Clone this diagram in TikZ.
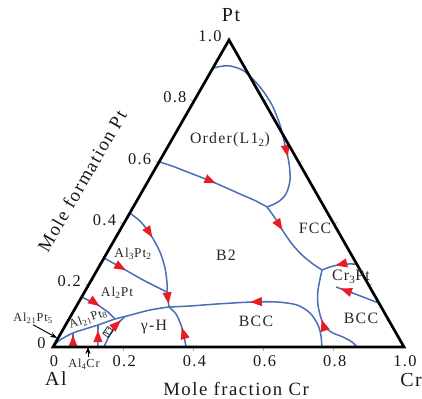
\documentclass[tikz,border=0pt]{standalone}
\usepackage{fontspec}
\setmainfont{Liberation Serif}[LetterSpace=8]
\usetikzlibrary{arrows.meta,decorations.markings,calc}

\definecolor{curveblue}{RGB}{74,112,182}
\definecolor{flowred}{RGB}{232,28,36}

\tikzset{
  triedge/.style={black,line width=2.3pt,line join=miter},
  phaseline/.style={curveblue,line width=1.3pt},
  flow/.style={postaction={decorate,decoration={markings,
      mark=at position #1 with {\arrow{Triangle[length=10pt,width=7.5pt,color=flowred]}}}}},
  gridtick/.style={gray!60,line width=0.6pt},
  ticklabel/.style={font=\fontsize{14}{16}\selectfont,text=black!90,inner sep=1pt},
  cornerlabel/.style={font=\fontsize{17}{19}\selectfont,text=black!90},
  axistitle/.style={font=\fontsize{16}{18}\selectfont,text=black!90},
  phasename/.style={font=\fontsize{13.5}{15}\selectfont,text=black!85},
  smallphase/.style={font=\fontsize{11.5}{13}\selectfont,text=black!85},
  tinyphase/.style={font=\fontsize{10.5}{12}\selectfont,text=black!85,inner sep=1pt},
  pointer/.style={-{Stealth[length=6pt,width=4.5pt]},line width=0.8pt},
}

\begin{document}
\begin{tikzpicture}[x=0.03cm,y=-0.03cm]
\useasboundingbox (0,0) rectangle (422,399);

% corners of the composition triangle
\coordinate (Al) at (53,347);
\coordinate (Cr) at (404,347);
\coordinate (Pt) at (229,40);

% small marks every 0.2
\foreach \f in {0.2,0.4,0.6,0.8}{
  \draw[gridtick] ($(Al)!\f!(Cr)$) -- ++(0,4);
  \draw[gridtick] ($(Cr)!\f!(Pt)$) -- ++(3.5,-2);
  \draw[gridtick] ($(Al)!\f!(Pt)$) -- ++(-3.5,-2);
}

% end points on the edges
\coordinate (L1) at ($(Al)!0.908!(Pt)$);
\coordinate (L2) at ($(Al)!0.603!(Pt)$);
\coordinate (L3) at ($(Al)!0.436!(Pt)$);
\coordinate (L4) at ($(Al)!0.29!(Pt)$);
\coordinate (L5) at ($(Al)!0.163!(Pt)$);
\coordinate (R1) at ($(Cr)!0.27!(Pt)$);
\coordinate (R2) at ($(Cr)!0.143!(Pt)$);
\coordinate (B1) at ($(Al)!0.866!(Cr)$);
\coordinate (B2) at ($(Al)!0.766!(Cr)$);
\coordinate (B3) at ($(Al)!0.379!(Cr)$);
\coordinate (B4) at ($(Al)!0.145!(Cr)$);
\coordinate (B5) at ($(Al)!0.128!(Cr)$);
\coordinate (B6) at ($(Al)!0.057!(Cr)$);

% junctions
\coordinate (J1) at (267,207);
\coordinate (J2) at (322,270);
\coordinate (J3) at (169,307);
\coordinate (J4) at (167,292);
\coordinate (K1) at (73,333);
\coordinate (K2) at (98,325);
\coordinate (K3) at (125,316.5);
\coordinate (K4) at (115,319);
\coordinate (R2end) at (336,287);

% univariant lines
\draw[phaseline,flow=0.68] plot[smooth] coordinates {(L1) (220,66.5) (230,66) (244,71)
  (260,87) (272,105) (280,125) (285,145) (289,163) (290,180) (286,194) (278,202) (J1)};
\draw[phaseline,flow=0.52] plot[smooth] coordinates {(L2) (172,166) (190,173) (213,182)
  (240,194) (256,201) (J1)};
\draw[phaseline,flow=0.33] plot[smooth] coordinates {(J1) (275,218) (283,231) (292,244)
  (302,255) (313,264) (J2)};
\draw[phaseline,flow=0.6] plot[smooth] coordinates {(R1) (348,264) (338,265) (330,267) (J2)};
\draw[phaseline,flow=0.48] plot[smooth] coordinates {(B1) (352,342) (343,337) (333,333)
  (325,327) (321,318) (318,305) (318,290) (J2)};
\draw[phaseline,flow=0.9] plot[smooth] coordinates {(R2) (363,297) (350,292) (R2end)};
\draw[phaseline,flow=0.55] plot[smooth] coordinates {(B2) (321,336) (318,325) (310,313)
  (297,305) (277,302) (252,302) (217,304) (190,306) (J3)};
\draw[phaseline,flow=0.45] plot[smooth] coordinates {(B3) (184,336) (181,325) (176,314) (J3)};
\draw[phaseline,flow=0.37] plot[smooth] coordinates {(L3) (141,222) (152,237) (160,252)
  (165,268) (167,283) (J4)};
\draw[phaseline,flow=0.35] plot[smooth] coordinates {(L4) (122,268) (145,281) (J4)};
\draw[phaseline,flow=0.8] (J4) -- (J3);
\draw[phaseline] plot[smooth] coordinates {(Al) (60,340) (K1) (85,329) (K2) (K4) (K3)
  (150,310) (J3)};
\draw[phaseline,flow=0.85] (B6) -- (K1);
\draw[phaseline,flow=0.75] (B5) -- (K2);
\draw[phaseline,flow=0.85] (B4) -- (109,336) -- (116,325) -- (K3);
\draw[phaseline,flow=0.5] (L5) -- (98,305) -- (108,312) -- (K4);

% triangle
\draw[triedge] (Al) -- (Cr) -- (Pt) -- cycle;

% corner and axis labels
\node[cornerlabel] (lPt) at (231,15) {Pt};
\node[cornerlabel] (lAl) at (56,379) {Al};
\node[cornerlabel] (lCr) at (411,380) {Cr};
\foreach \f/\t in {0/0,0.2/0.2,0.4/0.4,0.6/0.6,0.8/0.8,1/1.0}{
  \node[ticklabel] at ($(Al)!\f!(Cr)+(1,14)$) {\t};
  \node[ticklabel,anchor=east] at ($(Al)!\f!(Pt)+(-6,-4)$) {\t};
}
\node[axistitle] (xtitle) at (236,389) {Mole fraction Cr};
\node[axistitle,rotate=60] (ytitle) at (82,181) {Mole formation Pt};

% phase fields
\node[phasename] (lOrder) at (230,140) {Order(L1\textsubscript{2})};
\node[phasename] (lFCC) at (315,228) {FCC};
\node[phasename] (lB2) at (226,255) {B2};
\node[phasename] (lCr3Pt) at (351,277) {Cr\textsubscript{3}Pt};
\node[phasename] (lBCCa) at (361,318) {BCC};
\node[phasename] (lBCCb) at (256,321) {BCC};
\node[phasename] (lgH) at (154,327) {γ-H};
\node[smallphase] (lAl3Pt2) at (133,254) {Al\textsubscript{3}Pt\textsubscript{2}};
\node[smallphase] (lAl2Pt) at (117,293) {Al\textsubscript{2}Pt};
\node[tinyphase,rotate=20] (lAl21Pt8) at (88,319) {Al\textsubscript{21}Pt\textsubscript{8}};
\node[tinyphase] (lAl21Pt5) at (33,318) {Al\textsubscript{21}Pt\textsubscript{5}};
\node[tinyphase] (lAl4Cr) at (84,364) {Al\textsubscript{4}Cr};
\node[draw,line width=0.5pt,rotate=55,inner sep=0.6pt,font=\fontsize{7}{8}\selectfont]
  (lgT) at (108,332) {γ-};

% pointers
\coordinate (tAl21Pt5) at (57,338);
\coordinate (tAl4Cr) at (88,347);
\draw[pointer] (lAl21Pt5.south) -- (tAl21Pt5);
\draw[pointer] (lAl4Cr.north -| tAl4Cr) -- (tAl4Cr);
\end{tikzpicture}
\end{document}
